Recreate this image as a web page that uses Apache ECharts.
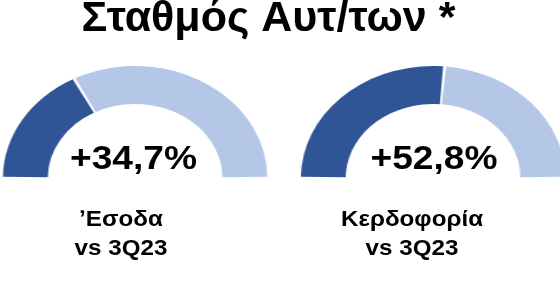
<!DOCTYPE html>
<html><head><meta charset="utf-8">
<script src="https://cdn.jsdelivr.net/npm/echarts@6/dist/echarts.min.js"></script>
<style>
html,body{margin:0;padding:0;background:#fff;}
#wrap{position:relative;width:560px;height:288px;overflow:hidden;}
#arcs{position:absolute;left:0;top:0;width:475px;height:288px;transform:scaleX(1.18);transform-origin:0 0;}
#texts{position:absolute;left:0;top:0;width:560px;height:288px;}
</style></head>
<body><div id="wrap"><div id="arcs"></div><div id="texts"></div></div>
<script>
const chartTitle = 'Σταθμός Αυτ/των *';
const metrics = ['Έσοδα', 'Κερδοφορία'];
const growthValues = [34.7, 52.8];
const remainderValues = [65.3, 47.2];
const valueLabels = ['+34,7%', '+52,8%'];
const compareLabel = 'vs 3Q23';

const DARK = '#2F5597', LIGHT = '#B4C7E7';
const FONT = '"Liberation Sans", Arial, sans-serif';

const arcs = echarts.init(document.getElementById('arcs'), null, {renderer:'canvas'});
const centersX = [114.5, 367];
arcs.setOption({
  animation:false,
  series: growthValues.map((v,i)=>({
    type:'pie',
    center:[centersX[i], 178],
    radius:[74, 112],
    startAngle:180,
    endAngle:0,
    padAngle:1.3,
    silent:true,
    label:{show:false},
    labelLine:{show:false},
    data:[
      {value:v, name:metrics[i], itemStyle:{color:DARK}},
      {value:remainderValues[i], name:'rest', itemStyle:{color:LIGHT}}
    ]
  }))
});

const texts = echarts.init(document.getElementById('texts'));
const valueX = [133.5, 434];
const labelX = [121, 412];
const els = [{
  type:'text', x:268.5, y:-2, silent:true,
  style:{text:chartTitle, fill:'#000', fontFamily:FONT, fontWeight:'bold', fontSize:43, align:'center', verticalAlign:'top'}
}];
valueLabels.forEach((t,i)=>{
  els.push({type:'text', x:valueX[i], y:143, scaleX:1.125, silent:true,
    style:{text:t, fill:'#000', fontFamily:FONT, fontWeight:'bold', fontSize:33, align:'center', verticalAlign:'top'}});
  els.push({type:'text', x:labelX[i], y:205, scaleX:1.1, silent:true,
    style:{text:(i===0?'\u02BCΕσοδα':metrics[i]) + '\n' + compareLabel, fill:'#000', fontFamily:FONT, fontWeight:'bold', fontSize:22, lineHeight:29, align:'center', verticalAlign:'top'}});
});
texts.setOption({animation:false, graphic:{elements:els}});
</script></body></html>
